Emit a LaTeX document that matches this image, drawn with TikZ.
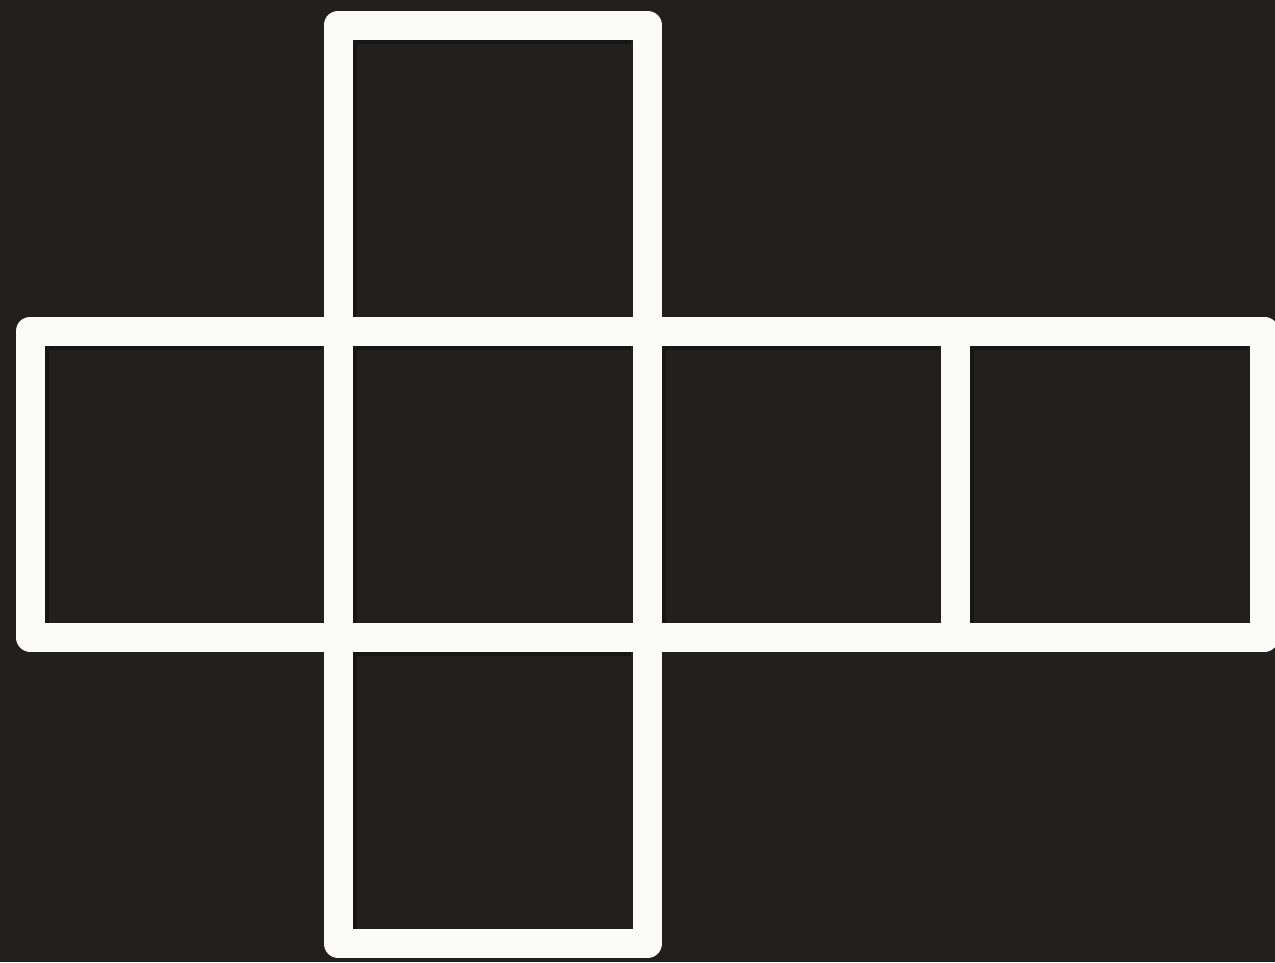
\documentclass[tikz,border=0pt]{standalone}
\definecolor{bgdark}{RGB}{33,32,30}
\definecolor{shadowdark}{RGB}{22,22,20}
\definecolor{netwhite}{RGB}{251,251,248}
\tikzset{
  netline/.style={draw=netwhite, line width=29pt, line join=round},
  innershadow/.style={draw=shadowdark, line width=4pt}
}
\begin{document}
\begin{tikzpicture}[x=1pt,y=-1pt]
\useasboundingbox (0,0) rectangle (1275,962);
\fill[bgdark] (0,0) rectangle (1275,962);
% subtle inner shadows along the inner edges of each face
\foreach \xa/\ya/\xb/\yb in {338/25/647.5/331, 30/331/338/637, 338/331/647.5/637, 647.5/331/955/637, 955/331/1264/637, 338/637/647.5/943.5}{
  \draw[innershadow] (\xa+16.5,\yb-14.5) -- (\xa+16.5,\ya+16.5) -- (\xb-16.5,\ya+16.5);
}
% the cube net
\draw[netline]
  (338,25) rectangle (647.5,331)
  (30,331) rectangle (1264,637)
  (338,331) -- (338,637)
  (647.5,331) -- (647.5,637)
  (955,331) -- (955,637)
  (338,637) rectangle (647.5,943.5);
\end{tikzpicture}
\end{document}
